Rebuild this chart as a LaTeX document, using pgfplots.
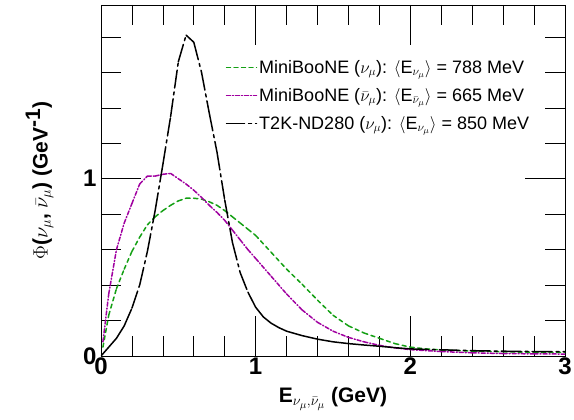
\documentclass[border=0pt]{standalone}
\usepackage{pgfplots}
\pgfplotsset{compat=1.18}
\usepackage{fontspec}
\setmainfont{Liberation Sans}
\definecolor{mygreen}{RGB}{20,160,20}
\definecolor{mymag}{RGB}{160,0,160}
\begin{document}
\begin{tikzpicture}
\begin{axis}[
  name=ax,
  scale only axis, width=464bp, height=351bp,
  xmin=0, xmax=3, ymin=0, ymax=1.98,
  unbounded coords=jump, filter discard warning=false,
  xtick={0,1,2,3}, ytick={0,1},
  minor xtick={0.2,0.4,0.6,0.8,1.2,1.4,1.6,1.8,2.2,2.4,2.6,2.8},
  minor ytick={0.2,0.4,0.6,0.8,1.2,1.4,1.6,1.8},
  major tick length=40bp, minor tick length=20bp,
  tick style={black, line width=0.6bp},
  axis line style={line width=0.8bp},
  /pgf/number format/assume math mode=true,
  ticklabel style={font=\bfseries\fontsize{24bp}{24bp}\selectfont},
  xticklabel style={yshift=2bp},
  yticklabel style={xshift=-1bp},
  xlabel={\textbf{E$_{\nu_{\mu},\bar{\nu}_{\mu}}$ (GeV)}},
  ylabel={\textbf{$\Phi$($\nu_{\mu}$, $\bar{\nu}_{\mu}$) (GeV$^{\textbf{-1}}$)}},
  label style={font=\bfseries\fontsize{21bp}{21bp}\selectfont},
  xlabel style={at={(axis description cs:0.5,-0.08)}, anchor=north},
  ylabel style={at={(axis description cs:-0.095,0.5)}, anchor=south},
  legend style={at={(axis description cs:0.262,0.855)}, anchor=north west, draw=none, fill=none,
    font=\fontsize{18bp}{18bp}\selectfont, row sep=9.5bp},
  legend cell align=left,
  legend image code/.code={\draw[#1] (0bp,0bp) -- (30bp,0bp);},
]
% MiniBooNE nu: each bin-to-bin segment is its own subpath, so the dash pattern restarts (as in ROOT)
\addplot[mygreen, line width=1.5bp, line cap=round, dash pattern=on 4bp off 3.5bp] coordinates {
(0.0125,0.05)(0.05,0.23)(0,nan) (0.05,0.23)(0.10,0.38)(0,nan) (0.10,0.38)(0.15,0.49)(0,nan)
(0.15,0.49)(0.20,0.59)(0,nan) (0.20,0.59)(0.25,0.67)(0,nan) (0.25,0.67)(0.30,0.74)(0,nan)
(0.30,0.74)(0.35,0.785)(0,nan) (0.35,0.785)(0.40,0.82)(0,nan) (0.40,0.82)(0.45,0.85)(0,nan)
(0.45,0.85)(0.50,0.875)(0,nan) (0.50,0.875)(0.55,0.89)(0,nan) (0.55,0.89)(0.60,0.89)(0,nan)
(0.60,0.89)(0.65,0.885)(0,nan) (0.65,0.885)(0.70,0.87)(0,nan) (0.70,0.87)(0.75,0.85)(0,nan)
(0.75,0.85)(0.80,0.82)(0,nan) (0.80,0.82)(0.85,0.785)(0,nan) (0.85,0.785)(0.90,0.75)(0,nan)
(0.90,0.75)(0.95,0.715)(0,nan) (0.95,0.715)(1.00,0.68)(0,nan) (1.00,0.68)(1.10,0.585)(0,nan)
(1.10,0.585)(1.20,0.49)(0,nan) (1.20,0.49)(1.30,0.405)(0,nan) (1.30,0.405)(1.40,0.315)(0,nan)
(1.40,0.315)(1.50,0.23)(0,nan) (1.50,0.23)(1.60,0.17)(0,nan) (1.60,0.17)(1.70,0.13)(0,nan)
(1.70,0.13)(1.80,0.10)(0,nan) (1.80,0.10)(1.90,0.07)(0,nan) (1.90,0.07)(2.00,0.05)(0,nan)
(2.00,0.05)(2.10,0.04)(0,nan) (2.10,0.04)(2.20,0.034)(0,nan) (2.20,0.034)(2.40,0.028)(0,nan)
(2.40,0.028)(2.60,0.024)(0,nan) (2.60,0.024)(2.80,0.021)(0,nan) (2.80,0.021)(3.00,0.02)
};
\addlegendentry{MiniBooNE ($\nu_{\mu}$): $\langle$E$_{\nu_{\mu}}\rangle$ = 788 MeV}
% MiniBooNE nubar
\addplot[mymag, line width=1.5bp, line cap=round, dash pattern=on 4bp off 2bp on 1bp off 2bp] coordinates {
(0.0125,0.08)(0.05,0.35)(0,nan) (0.05,0.35)(0.10,0.60)(0,nan) (0.10,0.60)(0.15,0.75)(0,nan)
(0.15,0.75)(0.20,0.86)(0,nan) (0.20,0.86)(0.25,0.97)(0,nan) (0.25,0.97)(0.30,1.015)(0,nan)
(0.30,1.015)(0.35,1.015)(0,nan) (0.35,1.015)(0.40,1.025)(0,nan) (0.40,1.025)(0.45,1.03)(0,nan)
(0.45,1.03)(0.50,1.00)(0,nan) (0.50,1.00)(0.55,0.97)(0,nan) (0.55,0.97)(0.60,0.935)(0,nan)
(0.60,0.935)(0.65,0.895)(0,nan) (0.65,0.895)(0.70,0.85)(0,nan) (0.70,0.85)(0.75,0.81)(0,nan)
(0.75,0.81)(0.80,0.765)(0,nan) (0.80,0.765)(0.85,0.71)(0,nan) (0.85,0.71)(0.90,0.655)(0,nan)
(0.90,0.655)(0.95,0.60)(0,nan) (0.95,0.60)(1.00,0.55)(0,nan) (1.00,0.55)(1.10,0.45)(0,nan)
(1.10,0.45)(1.20,0.35)(0,nan) (1.20,0.35)(1.30,0.26)(0,nan) (1.30,0.26)(1.40,0.19)(0,nan)
(1.40,0.19)(1.50,0.14)(0,nan) (1.50,0.14)(1.60,0.105)(0,nan) (1.60,0.105)(1.70,0.08)(0,nan)
(1.70,0.08)(1.80,0.06)(0,nan) (1.80,0.06)(1.90,0.046)(0,nan) (1.90,0.046)(2.00,0.036)(0,nan)
(2.00,0.036)(2.20,0.025)(0,nan) (2.20,0.025)(2.40,0.018)(0,nan) (2.40,0.018)(2.60,0.014)(0,nan)
(2.60,0.014)(2.80,0.012)(0,nan) (2.80,0.012)(3.00,0.011)
};
\addlegendentry{MiniBooNE ($\bar{\nu}_{\mu}$): $\langle$E$_{\bar{\nu}_{\mu}}\rangle$ = 665 MeV}
% T2K ND280
\addplot[black, line width=1.5bp, line cap=round, dash pattern=on 18bp off 4bp on 3bp off 4bp] coordinates {
(0.00,0.00)(0.05,0.05)(0,nan) (0.05,0.05)(0.10,0.10)(0,nan) (0.10,0.10)(0.15,0.17)(0,nan)
(0.15,0.17)(0.20,0.27)(0,nan) (0.20,0.27)(0.25,0.40)(0,nan) (0.25,0.40)(0.30,0.59)(0,nan)
(0.30,0.59)(0.35,0.82)(0,nan) (0.35,0.82)(0.40,1.08)(0,nan) (0.40,1.08)(0.45,1.35)(0,nan)
(0.45,1.35)(0.50,1.66)(0,nan) (0.50,1.66)(0.55,1.81)(0,nan) (0.55,1.81)(0.60,1.77)(0,nan)
(0.60,1.77)(0.65,1.60)(0,nan) (0.65,1.60)(0.70,1.37)(0,nan) (0.70,1.37)(0.75,1.15)(0,nan)
(0.75,1.15)(0.80,0.88)(0,nan) (0.80,0.88)(0.85,0.64)(0,nan) (0.85,0.64)(0.90,0.47)(0,nan)
(0.90,0.47)(0.95,0.36)(0,nan) (0.95,0.36)(1.00,0.275)(0,nan) (1.00,0.275)(1.05,0.22)(0,nan)
(1.05,0.22)(1.10,0.185)(0,nan) (1.10,0.185)(1.15,0.16)(0,nan) (1.15,0.16)(1.20,0.14)(0,nan)
(1.20,0.14)(1.30,0.115)(0,nan) (1.30,0.115)(1.40,0.095)(0,nan) (1.40,0.095)(1.50,0.08)(0,nan)
(1.50,0.08)(1.60,0.07)(0,nan) (1.60,0.07)(1.70,0.062)(0,nan) (1.70,0.062)(1.80,0.055)(0,nan)
(1.80,0.055)(1.90,0.047)(0,nan) (1.90,0.047)(2.00,0.04)(0,nan) (2.00,0.04)(2.20,0.035)(0,nan)
(2.20,0.035)(2.40,0.03)(0,nan) (2.40,0.03)(2.60,0.027)(0,nan) (2.60,0.027)(2.80,0.025)(0,nan)
(2.80,0.025)(3.00,0.024)
};
\addlegendentry{T2K-ND280 ($\nu_{\mu}$): $\langle$E$_{\nu_{\mu}}\rangle$ = 850 MeV}
\end{axis}
\pgfresetboundingbox
\path ([shift={(-101bp,-64bp)}]ax.south west) rectangle ([shift={(9bp,5bp)}]ax.north east);
\end{tikzpicture}
\end{document}
